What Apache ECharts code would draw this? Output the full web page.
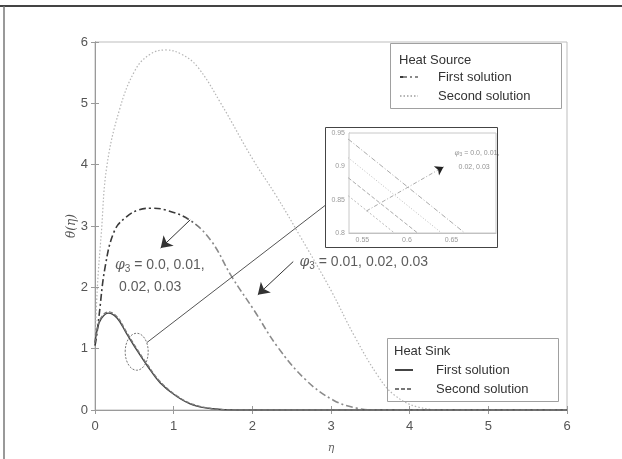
<!DOCTYPE html>
<html>
<head>
<meta charset="utf-8">
<script src="https://cdn.jsdelivr.net/npm/echarts@6/dist/echarts.min.js"></script>
<style>html,body{margin:0;padding:0;background:#fff;}#c{width:622px;height:459px;}</style>
</head>
<body>
<div id="c"></div>
<script>
// ---- main plot data (eta, theta) ----
const etaSourceSecond   = [0, 0.03, 0.08, 0.15, 0.31, 0.51, 0.7, 0.9, 1.1, 1.3, 1.6, 2.0, 2.3, 2.6, 3.0, 3.3, 3.6, 3.8, 4.1, 4.5, 5, 6];
const thetaSourceSecond = [1.05, 2.0, 2.88, 3.97, 4.89, 5.54, 5.8, 5.87, 5.8, 5.6, 5.0, 4.1, 3.5, 2.85, 1.95, 1.2, 0.55, 0.25, 0.05, 0, 0, 0];
const etaSourceFirst    = [0, 0.02, 0.05, 0.13, 0.25, 0.4, 0.55, 0.71, 0.9, 1.2, 1.47, 1.74, 2.02, 2.32, 2.68, 3.03, 3.33, 3.6, 4, 5, 6];
const thetaSourceFirst  = [1.05, 1.2, 1.52, 2.34, 2.93, 3.15, 3.26, 3.29, 3.26, 3.1, 2.77, 2.17, 1.63, 1.03, 0.49, 0.16, 0.03, 0, 0, 0, 0];
const etaSink           = [0, 0.03, 0.08, 0.17, 0.28, 0.4, 0.53, 0.66, 0.83, 1.04, 1.25, 1.5, 1.8, 3, 6];
const thetaSinkFirst    = [1.1, 1.32, 1.49, 1.58, 1.5, 1.25, 0.98, 0.73, 0.44, 0.22, 0.08, 0.02, 0, 0, 0];
const thetaSinkSecond   = [1.1, 1.34, 1.51, 1.6, 1.52, 1.27, 1.0, 0.75, 0.46, 0.23, 0.09, 0.02, 0, 0, 0];

// ---- inset data ----
const insetEtaStart   = [0.534, 0.534, 0.534, 0.534];
const insetThetaStart = [0.856, 0.883, 0.913, 0.941];
const insetEtaEnd     = [0.586, 0.612, 0.639, 0.665];
const insetThetaEnd   = [0.8, 0.8, 0.8, 0.8];
const insetXTicks = [0.55, 0.6, 0.65];

// ---- annotation anchors (data coords) ----
const arrow1 = [[1.21, 3.10], [0.835, 2.64]];
const arrow2 = [[2.52, 2.42], [2.07, 1.88]];
const connector = [[0.66, 1.10], [2.93, 3.34]];
const ellipseCenter = [0.53, 0.95];
const insetArrow = [[0.5545, 0.833], [0.636, 0.8953], [0.641, 0.899]];

const zip = (xs, ys) => xs.map((x, i) => [x, ys[i]]);
const FONT = 'Liberation Sans, Arial, sans-serif';
const LEG_SRC = 'Heat Source: ';
const LEG_SNK = 'Heat Sink: ';

const chart = echarts.init(document.getElementById('c'), null, {renderer: 'canvas'});

const mainAxisCommon = {
  type: 'value', min: 0, max: 6, interval: 1,
  axisLine: {show: true, lineStyle: {color: '#9a9a9a', width: 1}},
  axisTick: {show: true, inside: true, length: 4, lineStyle: {color: '#9a9a9a'}},
  splitLine: {show: false},
  axisLabel: {color: '#555', fontSize: 13, fontFamily: FONT}
};
const insetAxisCommon = {
  type: 'value',
  axisLine: {show: true, lineStyle: {color: '#bbb', width: 1}},
  axisTick: {show: true, inside: true, length: 2, lineStyle: {color: '#bbb'}},
  splitLine: {show: false},
  axisLabel: {color: '#999', fontSize: 7, fontFamily: FONT, margin: 4}
};

const richTxt = (fs, col) => ({
  phi: {fontSize: fs, fontStyle: 'italic', fontFamily: 'DejaVu Serif, serif', color: col, verticalAlign: 'middle'},
  sub: {fontSize: Math.round(fs * 0.7), fontFamily: FONT, color: col, padding: [Math.round(fs * 0.55), 0, 0, 0]},
  t: {fontSize: fs, fontFamily: FONT, color: col}
});

const insetSeries = insetEtaStart.map((e, i) => ({
  type: 'line', xAxisIndex: 2, yAxisIndex: 2, symbol: 'none', silent: true,
  data: [[e, insetThetaStart[i]], [insetEtaEnd[i], insetThetaEnd[i]]],
  lineStyle: {color: ['#bbb', '#aaa', '#bbb', '#aaa'][i], width: 1, type: [[2, 2], [4, 2], [1, 2], [5, 2, 1, 2]][i]},
  z: 3
}));

const legendCommon = {
  orient: 'vertical', padding: 0, itemGap: 3, itemWidth: 18, itemHeight: 8, selectedMode: false,
  itemStyle: {opacity: 0, color: 'transparent', borderWidth: 0}
};

const option = {
  animation: false,
  backgroundColor: '#fff',
  textStyle: {fontFamily: FONT},
  grid: [
    {left: 95, top: 42, width: 472, height: 368, show: true, borderColor: '#bdbdbd', borderWidth: 1, backgroundColor: 'transparent'},
    {left: 349, top: 133, width: 147, height: 100, show: true, borderColor: '#c8c8c8', borderWidth: 1, backgroundColor: '#fff', z: 3}
  ],
  xAxis: [
    Object.assign({}, mainAxisCommon, {gridIndex: 0, position: 'bottom',
      name: 'η', nameLocation: 'middle', nameGap: 33, nameMoveOverlap: false,
      nameTextStyle: {fontStyle: 'italic', fontFamily: 'DejaVu Serif, serif', fontSize: 11, color: '#666'},
      axisLabel: Object.assign({}, mainAxisCommon.axisLabel, {margin: 10})}),
    Object.assign({}, mainAxisCommon, {gridIndex: 0, position: 'top', axisLabel: {show: false}}),
    Object.assign({}, insetAxisCommon, {gridIndex: 1, min: 0.535, max: 0.7, position: 'bottom',
      axisLabel: Object.assign({}, insetAxisCommon.axisLabel, {customValues: insetXTicks, formatter: v => String(+v.toFixed(2))}),
      axisTick: Object.assign({}, insetAxisCommon.axisTick, {customValues: insetXTicks})})
  ],
  yAxis: [
    Object.assign({}, mainAxisCommon, {gridIndex: 0, position: 'left',
      name: 'θ(η)', nameLocation: 'middle', nameGap: 17, nameRotate: 90, nameMoveOverlap: false,
      nameTextStyle: {fontStyle: 'italic', fontFamily: 'DejaVu Serif, serif', fontSize: 12, color: '#555'},
      axisLabel: Object.assign({}, mainAxisCommon.axisLabel, {margin: 7})}),
    Object.assign({}, mainAxisCommon, {gridIndex: 0, position: 'right', axisLabel: {show: false}}),
    Object.assign({}, insetAxisCommon, {gridIndex: 1, min: 0.8, max: 0.95, interval: 0.05, position: 'left',
      axisLabel: Object.assign({}, insetAxisCommon.axisLabel, {formatter: v => String(+v.toFixed(2))})})
  ],
  legend: [
    Object.assign({}, legendCommon, {
      left: 399, top: 69,
      data: [LEG_SRC + 'First solution', LEG_SRC + 'Second solution'],
      formatter: n => n.replace(LEG_SRC, ''),
      textStyle: {fontSize: 13, color: '#333', fontFamily: FONT, lineHeight: 16, padding: [0, 0, 0, 15]}
    }),
    Object.assign({}, legendCommon, {
      left: 394, top: 362,
      data: [LEG_SNK + 'First solution', LEG_SNK + 'Second solution'],
      formatter: n => n.replace(LEG_SNK, ''),
      textStyle: {fontSize: 13, color: '#333', fontFamily: FONT, lineHeight: 16, padding: [0, 0, 0, 18]}
    })
  ],
  series: [
    {
      name: LEG_SRC + 'Second solution', type: 'line', xAxisIndex: 0, yAxisIndex: 0, symbol: 'none', smooth: 0.4,
      data: zip(etaSourceSecond, thetaSourceSecond),
      itemStyle: {color: '#b5b5b5'},
      lineStyle: {color: '#b5b5b5', width: 1.2, type: [1.5, 2]}, z: 2
    },
    {
      name: LEG_SRC + 'First solution', type: 'line', xAxisIndex: 0, yAxisIndex: 0, symbol: 'none', smooth: 0.4,
      data: zip(etaSourceFirst, thetaSourceFirst),
      itemStyle: {color: '#666'},
      lineStyle: {
        width: 1.6, type: [7, 3, 2, 3],
        color: new echarts.graphic.LinearGradient(0, 0, 1, 0, [
          {offset: 0, color: '#3a3a3a'}, {offset: 0.19, color: '#3a3a3a'},
          {offset: 0.23, color: '#8a8a8a'}, {offset: 1, color: '#8a8a8a'}])
      },
      z: 3
    },
    {
      name: LEG_SNK + 'First solution', type: 'line', xAxisIndex: 0, yAxisIndex: 0, symbol: 'none', smooth: 0.4,
      data: zip(etaSink, thetaSinkFirst),
      itemStyle: {color: '#444'},
      lineStyle: {color: '#444', width: 1.4, type: 'solid'}, z: 4
    },
    {
      name: LEG_SNK + 'Second solution', type: 'line', xAxisIndex: 0, yAxisIndex: 0, symbol: 'none', smooth: 0.4,
      data: zip(etaSink, thetaSinkSecond),
      itemStyle: {color: '#777'},
      lineStyle: {color: '#777', width: 1.4, type: [4, 2]}, z: 4
    },
    {
      // annotations on the main plot
      type: 'scatter', xAxisIndex: 0, yAxisIndex: 0, symbolSize: 0, silent: true, z: 6,
      label: {show: true, position: 'right', distance: 0},
      data: [
        {value: [0.254, 2.36], label: {formatter: '{phi|φ}{sub|3}{t| = 0.0, 0.01,}', rich: richTxt(14, '#333')}},
        {value: [0.305, 2.0], label: {formatter: '{t|0.02, 0.03}', rich: richTxt(14, '#333')}},
        {value: [2.6, 2.41], label: {formatter: '{phi|φ}{sub|3}{t| = 0.01, 0.02, 0.03}', rich: richTxt(14, '#333')}}
      ],
      markLine: {
        silent: true, animation: false, label: {show: false},
        itemStyle: {color: '#333'},
        lineStyle: {color: '#333', width: 1, type: 'solid'},
        data: [
          [{coord: arrow1[0], symbol: 'none'}, {coord: arrow1[1], symbol: 'arrow', symbolSize: 11}],
          [{coord: arrow2[0], symbol: 'none'}, {coord: arrow2[1], symbol: 'arrow', symbolSize: 11}],
          [{coord: connector[0], symbol: 'none', lineStyle: {color: '#555'}}, {coord: connector[1], symbol: 'none'}]
        ]
      }
    }
  ].concat(insetSeries).concat([
    {
      type: 'scatter', xAxisIndex: 2, yAxisIndex: 2, symbolSize: 0, silent: true, z: 6,
      label: {show: true, position: 'right', distance: 0},
      data: [
        {value: [0.6535, 0.92], label: {formatter: '{phi|φ}{sub|3}{t| = 0.0, 0.01,}', rich: richTxt(7, '#777')}},
        {value: [0.658, 0.899], label: {formatter: '{t|0.02, 0.03}', rich: richTxt(7, '#777')}}
      ],
      markLine: {
        silent: true, animation: false, label: {show: false},
        lineStyle: {color: '#aaa', width: 1, type: [4, 2, 1, 2]},
        data: [
          [{coord: insetArrow[0], symbol: 'none'}, {coord: insetArrow[1], symbol: 'none'}],
          [{coord: insetArrow[1], symbol: 'none', lineStyle: {color: '#222', type: 'solid'}},
           {coord: insetArrow[2], symbol: 'arrow', symbolSize: 8}]
        ]
      }
    }
  ])
};

chart.setOption(option);

const ec = chart.convertToPixel({gridIndex: 0}, ellipseCenter);
chart.setOption({
  graphic: [
    {type: 'line', shape: {x1: 0, y1: 6, x2: 622, y2: 6}, style: {stroke: '#444', lineWidth: 2}, silent: true},
    {type: 'line', shape: {x1: 4, y1: 6, x2: 4, y2: 459}, style: {stroke: '#777', lineWidth: 1.5}, silent: true},
    {type: 'rect', shape: {x: 390.5, y: 43.5, width: 171, height: 65}, style: {fill: '#fff', stroke: '#a0a0a0', lineWidth: 1}, silent: true, z: 1},
    {type: 'text', x: 399, y: 60, style: {text: 'Heat Source', fontSize: 13, fill: '#333', fontFamily: FONT, verticalAlign: 'middle'}, silent: true, z: 2},
    {type: 'rect', shape: {x: 387.5, y: 338.5, width: 171, height: 63}, style: {fill: '#fff', stroke: '#a0a0a0', lineWidth: 1}, silent: true, z: 1},
    {type: 'text', x: 394, y: 351, style: {text: 'Heat Sink', fontSize: 13, fill: '#333', fontFamily: FONT, verticalAlign: 'middle'}, silent: true, z: 2},
    {type: 'rect', shape: {x: 325.5, y: 127.5, width: 172, height: 120}, style: {fill: 'rgba(255,255,255,0)', stroke: '#444', lineWidth: 1}, silent: true, z: 1},
    {type: 'ellipse', shape: {cx: ec[0], cy: ec[1], rx: 11.5, ry: 18.5}, style: {fill: 'none', stroke: '#777', lineWidth: 1, lineDash: [2, 1.5]}, silent: true, z: 10}
  ]
});
</script>
</body>
</html>
